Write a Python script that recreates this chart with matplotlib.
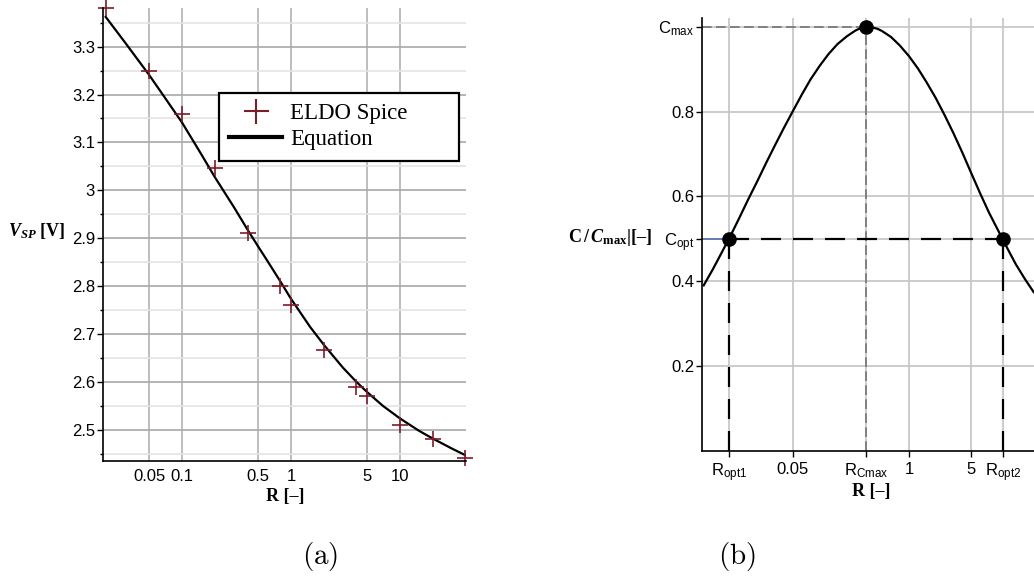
import matplotlib
matplotlib.use('Agg')
import matplotlib.pyplot as plt
from matplotlib.lines import Line2D
from matplotlib.ticker import NullLocator

plt.rcParams['font.family'] = ['Liberation Sans', 'DejaVu Sans']
plt.rcParams['mathtext.fontset'] = 'custom'
plt.rcParams['mathtext.rm'] = 'Liberation Serif:bold'
plt.rcParams['mathtext.it'] = 'Liberation Serif:italic:bold'
plt.rcParams['mathtext.bf'] = 'Liberation Serif:bold'
plt.rcParams['mathtext.sf'] = 'Liberation Sans'

# ---- (a) switching point vs R
r_spice = [0.02, 0.05, 0.1, 0.2, 0.4, 0.8, 1, 2, 4, 5, 10, 20, 40]
v_spice = [3.38, 3.249, 3.159, 3.046, 2.910, 2.800, 2.761, 2.667, 2.589, 2.571, 2.510, 2.481, 2.441]
r_eq = [0.02, 0.03, 0.05, 0.07, 0.1, 0.15, 0.2, 0.3, 0.4, 0.5, 0.6, 0.8, 1,
        1.5, 2, 3, 4, 5, 7, 10, 15, 20, 30, 40]
v_eq = [3.362, 3.309, 3.241, 3.193, 3.142, 3.076, 3.028, 2.965, 2.918, 2.883, 2.855, 2.810, 2.774,
        2.715, 2.678, 2.630, 2.600, 2.579, 2.550, 2.524, 2.498, 2.482, 2.461, 2.447]
xticks_a = [0.05, 0.1, 0.5, 1, 5, 10]
xlabels_a = ['0.05', '0.1', '0.5', '1', '5', '10']
yticks_a = [2.5, 2.6, 2.7, 2.8, 2.9, 3.0, 3.1, 3.2, 3.3]
ylabels_a = ['2.5', '2.6', '2.7', '2.8', '2.9', '3', '3.1', '3.2', '3.3']
yminor_a = [2.45, 2.55, 2.65, 2.75, 2.85, 2.95, 3.05, 3.15, 3.25, 3.35]

# ---- (b) normalised C vs R
r_curve = [0.0050, 0.0063, 0.0079, 0.010, 0.0126, 0.0158, 0.020, 0.0251, 0.0316, 0.0398,
           0.050, 0.063, 0.079, 0.10, 0.126, 0.158, 0.20, 0.224, 0.251, 0.282,
           0.316, 0.355, 0.398, 0.447, 0.50, 0.63, 0.79, 1.0, 1.26, 1.58,
           2.0, 2.51, 3.16, 3.98, 5.0, 6.3, 7.9, 10, 12.6, 15.8, 20, 25.1]
c_curve = [0.390, 0.427, 0.466, 0.507, 0.550, 0.593, 0.636, 0.679, 0.721, 0.762,
           0.801, 0.840, 0.876, 0.908, 0.936, 0.959, 0.977, 0.984, 0.991, 0.996,
           0.9995, 0.9995, 0.998, 0.995, 0.990, 0.976, 0.956, 0.931, 0.902, 0.869,
           0.832, 0.792, 0.749, 0.703, 0.655, 0.607, 0.562, 0.520, 0.479, 0.440, 0.405, 0.374]
r_opt1, r_cmax, r_opt2 = 0.0097, 0.328, 11.4
c_opt, c_max = 0.5, 1.0
xticks_b = [r_opt1, 0.05, r_cmax, 1, 5, r_opt2]
xlabels_b = [r'R$_{\mathsf{opt1}}$', '0.05', r'R$_{\mathsf{Cmax}}$', '1', '5', r'R$_{\mathsf{opt2}}$']
yticks_b = [0.2, 0.4, c_opt, 0.6, 0.8, c_max]
ylabels_b = ['0.2', '0.4', r'C$_{\mathsf{opt}}$', '0.6', '0.8', r'C$_{\mathsf{max}}$']

maroon = '#7b1e2a'
W, H = 1034, 579
fig = plt.figure(figsize=(W / 100, H / 100), dpi=100)


def fx(x):
    return x / W


def fy(y):
    return 1 - y / H


# ===== panel (a)
ax1 = fig.add_axes([fx(103.3), fy(461), (465.7 - 103.3) / W, (461 - 8.3) / H])
ax1.set_xscale('log')
ax1.set_xlim(0.019, 40.2)
ax1.set_ylim(2.435, 3.38)
ax1.set_xticks(xticks_a)
ax1.set_xticklabels(xlabels_a)
ax1.xaxis.set_minor_locator(NullLocator())
ax1.set_yticks(yticks_a)
ax1.set_yticklabels(ylabels_a)
ax1.set_yticks(yminor_a, minor=True)
ax1.xaxis.grid(True, color='#b8b8b8', lw=1.3)
ax1.yaxis.grid(True, which='major', color='#a8a8a8', lw=1.2)
ax1.yaxis.grid(True, which='minor', color='#e4e4e4', lw=1.2)
ax1.set_axisbelow(True)
for s in ['top', 'right']:
    ax1.spines[s].set_visible(False)
for s in ['left', 'bottom']:
    ax1.spines[s].set_linewidth(1.2)
ax1.tick_params(axis='y', which='major', length=4, width=1, pad=2, labelsize=12)
ax1.tick_params(axis='y', which='minor', length=2, width=1)
ax1.tick_params(axis='x', length=0, pad=6, labelsize=12)

ax1.plot(r_eq, v_eq, color='black', lw=1.6)
ax1.plot(r_spice, v_spice, ls='none', marker='+', ms=12, mew=1.2, color=maroon, clip_on=False)

handles = [Line2D([], [], ls='none', marker='+', ms=18, mew=1.5, color=maroon),
           Line2D([], [], color='black', lw=3)]
leg = ax1.legend(handles, ['ELDO Spice', 'Equation'], loc='upper left', mode='expand',
                 bbox_to_anchor=(fx(219), fy(164), 240 / W, 71 / H), bbox_transform=fig.transFigure,
                 borderaxespad=0, borderpad=0.45, labelspacing=0.22, handlelength=2.3,
                 handletextpad=0.35, fancybox=False, framealpha=1, numpoints=1,
                 prop={'family': 'Liberation Serif', 'size': 16.5})
leg.get_frame().set_edgecolor('black')
leg.get_frame().set_linewidth(1.6)

fig.text(fx(285), fy(496), 'R [–]', ha='center', va='center',
         family='Liberation Serif', weight='bold', size=13)
fig.text(fx(8), fy(231), r'$V_{SP}$ [V]', ha='left', va='center',
         family='Liberation Serif', weight='bold', size=13)

# ===== panel (b)
ax2 = fig.add_axes([fx(701.7), fy(450.7), (W - 701.7) / W, (450.7 - 18.3) / H])
ax2.set_xscale('log')
ax2.set_xlim(0.00475, 25.3)
ax2.set_ylim(0, 1.02)
ax2.set_xticks(xticks_b)
ax2.set_xticklabels(xlabels_b)
ax2.xaxis.set_minor_locator(NullLocator())
ax2.set_yticks(yticks_b)
ax2.set_yticklabels(ylabels_b)
ax2.grid(True, color='#c4c4c4', lw=1.2)
ax2.set_axisbelow(True)
for s in ['top', 'right']:
    ax2.spines[s].set_visible(False)
for s in ['left', 'bottom']:
    ax2.spines[s].set_linewidth(1.2)
ax2.tick_params(axis='y', length=4, width=1, pad=1.5, labelsize=12)
ax2.tick_params(axis='x', length=4, width=1, pad=4, labelsize=12)

xmin = ax2.get_xlim()[0]
ax2.hlines(c_max, xmin, r_cmax, color='#808080', lw=1.4, linestyle=(0, (5, 2.2)))
ax2.vlines(r_cmax, 0, c_max, color='#808080', lw=1.4, linestyle=(0, (5, 2.2)))
ax2.hlines(c_opt, xmin, r_opt1, color='#4f6fa8', lw=1.2)
ax2.hlines(c_opt, r_opt1, r_opt2, color='black', lw=1.6, linestyle=(0, (9, 5.4)))
ax2.vlines([r_opt1, r_opt2], 0, c_opt, color='black', lw=1.6, linestyle=(0, (9, 5.4)))
ax2.plot(r_curve, c_curve, color='black', lw=1.6)
ax2.plot([r_opt1, r_cmax, r_opt2], [c_opt, c_max, c_opt], ls='none', marker='o',
         ms=9.5, color='black', clip_on=False)

fig.text(fx(871.7), fy(491.7), 'R [–]', ha='center', va='center',
         family='Liberation Serif', weight='bold', size=13)
fig.text(fx(568), fy(237.5), r'C$\,/\,C_{\mathrm{max}}$|[–]', ha='left', va='center',
         family='Liberation Serif', weight='bold', size=13)

# captions
fig.text(fx(320), fy(556.7), r'$\mathrm{(a)}$', ha='center', va='center', size=21, math_fontfamily='cm')
fig.text(fx(736.7), fy(556.7), r'$\mathrm{(b)}$', ha='center', va='center', size=21, math_fontfamily='cm')

fig.savefig('out.png', dpi=100)
